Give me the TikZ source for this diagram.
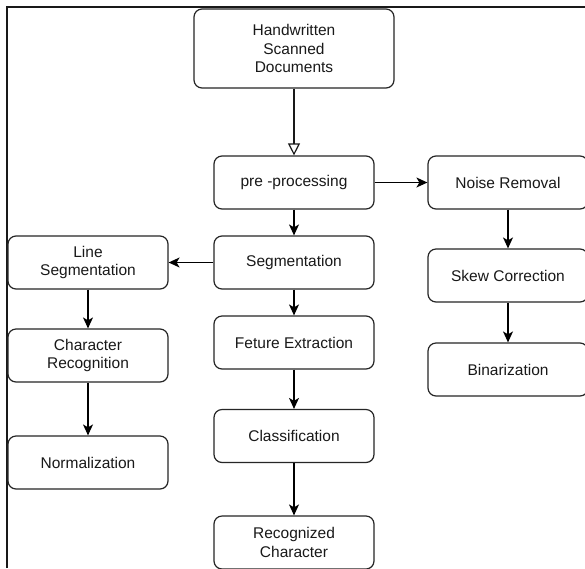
\documentclass[tikz,border=0pt]{standalone}
\usepackage{fontspec}
\setmainfont{Liberation Sans}
\usetikzlibrary{arrows.meta}
\begin{document}
\begin{tikzpicture}[x=1pt,y=-1pt,
  box/.style={draw=black!85, line width=1.2pt, rounded corners=8pt, fill=white,
    minimum width=160pt, minimum height=53pt, inner sep=0pt, align=center,
    text=black!90, font=\fontsize{15.5}{18.5}\selectfont},
  arr/.style={line width=1.3pt, draw=black, -{Stealth[length=11pt,width=10pt,inset=3pt]}},
  openarr/.style={line width=1.2pt, draw=black!90, -{Triangle[open,length=12pt,width=12pt,fill=white]}},
  frameline/.style={line width=2pt, draw=black!90}]
\useasboundingbox (0,0) rectangle (585,568);
\clip (0,0) rectangle (585,568);
\fill[white] (0,0) rectangle (585,568);
\coordinate (fa) at (6.5,568);
\coordinate (fb) at (6.5,7);
\coordinate (fc) at (590,7);
\draw[frameline] (fa) -- (fb) -- (fc);

\node[box, minimum width=200pt, minimum height=79pt] (hw) at (294,48.5) {Handwritten\\Scanned\\Documents};
\node[box] (pre) at (294,182.5) {pre -processing};
\node[box] (noise) at (508,182.5) {Noise Removal};
\node[box] (seg) at (294,262.5) {Segmentation};
\node[box] (line) at (88,262.5) {Line\\Segmentation};
\node[box] (skew) at (508,275.5) {Skew Correction};
\node[box] (feat) at (294,342.5) {Feture Extraction};
\node[box] (char) at (88,355.5) {Character\\Recognition};
\node[box] (bin) at (508,369.5) {Binarization};
\node[box] (cls) at (294,436) {Classification};
\node[box] (norm) at (88,462.5) {Normalization};
\node[box] (rec) at (294,542.5) {Recognized\\Character};

\draw[openarr] (hw) -- (pre);
\draw[arr] (pre) -- (noise);
\draw[arr] (pre) -- (seg);
\draw[arr] (seg) -- (line);
\draw[arr] (noise) -- (skew);
\draw[arr] (skew) -- (bin);
\draw[arr] (line) -- (char);
\draw[arr] (char) -- (norm);
\draw[arr] (seg) -- (feat);
\draw[arr] (feat) -- (cls);
\draw[arr] (cls) -- (rec);
\end{tikzpicture}
\end{document}
